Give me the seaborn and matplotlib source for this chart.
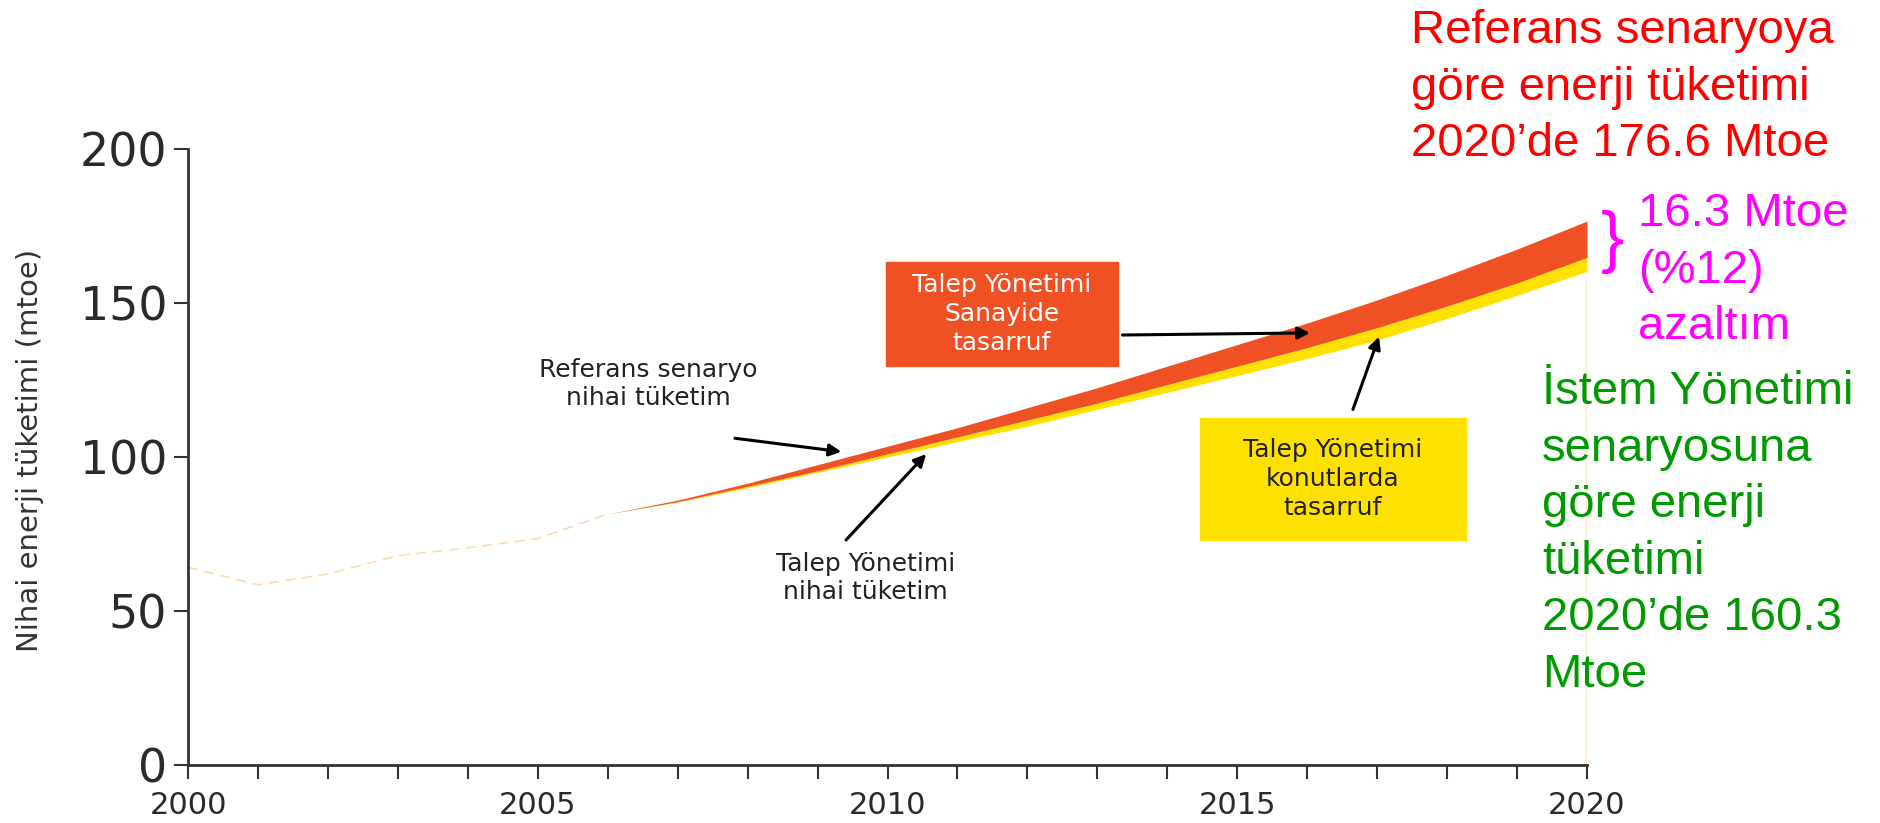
import pandas as pd
import seaborn as sns
import matplotlib.pyplot as plt
from matplotlib.patches import Rectangle

# historical final consumption 2000-2006 (mtoe)
hist_years = [2000, 2001, 2002, 2003, 2004, 2005, 2006]
hist_values = [64.2, 58.5, 62.0, 68.0, 70.5, 73.5, 81.5]

# scenarios 2006-2020 (mtoe)
scen_years = list(range(2006, 2021))
ref_values = [81.5, 86.0, 91.5, 97.5, 103.5, 109.5, 116.0, 122.5, 129.5, 136.5,
              143.5, 151.0, 159.0, 167.5, 176.6]
mid_values = [81.5, 85.5, 90.5, 95.5, 101.0, 106.5, 112.0, 117.5, 123.5, 129.5,
              135.5, 142.0, 149.0, 156.5, 164.8]
dsm_values = [81.5, 85.3, 90.0, 95.0, 100.0, 105.0, 110.0, 115.5, 121.0, 126.5,
              132.0, 138.0, 145.0, 152.5, 160.3]

hist = pd.DataFrame({"Yil": hist_years, "Tuketim": hist_values})

W, H = 1881, 823
fig = plt.figure(figsize=(W / 100, H / 100), dpi=100)
ax = fig.add_axes([188 / W, 1 - 765 / H, (1587 - 188) / W, (765 - 149) / H])

ORANGE = "#F05124"
YELLOW = "#FFE100"

# historical dashed line
sns.lineplot(data=hist, x="Yil", y="Tuketim", ax=ax, color="#FBDBB0",
             linewidth=1.2, linestyle=(0, (6, 4)))

# bands
ax.fill_between(scen_years, dsm_values, mid_values, color=YELLOW, lw=0)
ax.fill_between(scen_years, mid_values, ref_values, color=ORANGE, lw=0)
ax.vlines(scen_years[-1], 0, dsm_values[-1], color="#FCE8CF", lw=1.5)

ax.set_xlim(2000, 2020)
ax.set_ylim(0, 200)
ax.set_xticks([2000, 2005, 2010, 2015, 2020])
ax.set_xticks(range(2000, 2021), minor=True)
ax.set_yticks([0, 50, 100, 150, 200])
ax.tick_params(axis="y", length=10, width=1.5, color="#333333", labelsize=33,
               labelcolor="#2a2a2a", pad=5)
ax.tick_params(axis="x", which="both", length=10, width=1.5, color="#333333",
               labelsize=22, labelcolor="#2a2a2a", pad=9)
for s in ["top", "right"]:
    ax.spines[s].set_visible(False)
for s in ["left", "bottom"]:
    ax.spines[s].set_linewidth(2)
    ax.spines[s].set_color("#333333")
ax.set_xlabel("")
ax.set_ylabel("Nihai enerji tüketimi (mtoe)", fontsize=21, color="#333333")
ax.yaxis.set_label_coords(-0.103, 0.51)

arrow = dict(arrowstyle="-|>", color="black", lw=2.2, mutation_scale=18)
txt = dict(fontsize=18, color="#222222", ha="center", va="center")

# annotation boxes
fig.patches.append(Rectangle((886 / W, 1 - 366 / H), 232 / W, 104 / H,
                             transform=fig.transFigure, color=ORANGE, zorder=1))
fig.patches.append(Rectangle((1200 / W, 1 - 540 / H), 266 / W, 122 / H,
                             transform=fig.transFigure, color=YELLOW, zorder=1))
fig.text(1002 / W, 1 - 314 / H, "Talep Yönetimi\nSanayide\ntasarruf",
         fontsize=18, color="white", ha="center", va="center", linespacing=1.25)
fig.text(1333 / W, 1 - 479 / H, "Talep Yönetimi\nkonutlarda\ntasarruf",
         fontsize=18, color="#222222", ha="center", va="center", linespacing=1.25)

ax.annotate("", xy=(2016.08, 140.3), xytext=(2013.32, 139.6), arrowprops=arrow)
ax.annotate("", xy=(2017.04, 139.9), xytext=(2016.64, 114.6), arrowprops=arrow)
ax.text(2006.58, 123.7, "Referans senaryo\nnihai tüketim", **txt)
ax.annotate("", xy=(2009.38, 101.6), xytext=(2007.78, 106.2), arrowprops=arrow)
ax.text(2009.69, 60.7, "Talep Yönetimi\nnihai tüketim", **txt)
ax.annotate("", xy=(2010.58, 101.6), xytext=(2009.38, 72.4), arrowprops=arrow)

# right-hand notes
big = dict(fontsize=34, family="Liberation Sans", ha="left", va="top", linespacing=1.37)
fig.text(1411 / W, 1 - 9 / H, "Referans senaryoya\ngöre enerji tüketimi\n2020’de 176.6 Mtoe",
         color="#FF0000", **big)
fig.text(1601 / W, 1 - 242 / H, "}", color="#FF00FF", fontsize=50,
         family="Liberation Sans", ha="left", va="center")
fig.text(1638 / W, 1 - 192 / H, "16.3 Mtoe\n(%12)\nazaltım", color="#FF00FF", **big)
fig.text(1542 / W, 1 - 370 / H,
         "İstem Yönetimi\nsenaryosuna\ngöre enerji\ntüketimi\n2020’de 160.3\nMtoe",
         color="#009900", **big)

fig.savefig("out.png", dpi=100)
